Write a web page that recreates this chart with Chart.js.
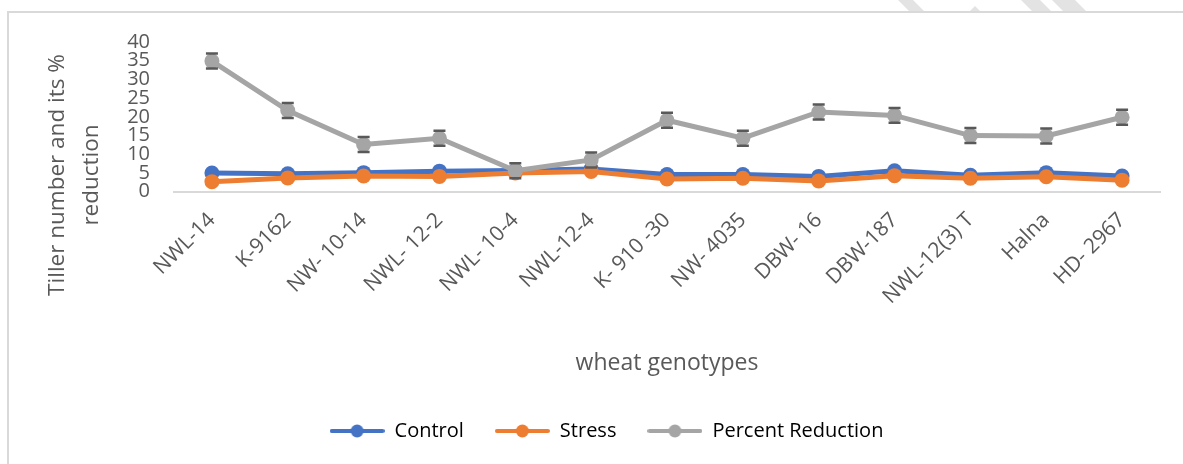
<!DOCTYPE html>
<html><head><meta charset="utf-8">
<script src="https://cdn.jsdelivr.net/npm/chart.js@4.4.1/dist/chart.umd.min.js"></script>
<style>html,body{margin:0;padding:0;background:#fff;overflow:hidden;} #c{display:block;}</style>
</head><body>
<canvas id="c" width="1183" height="464"></canvas>
<script>
const categories = ['NWL-14','K-9162','NW- 10-14','NWL- 12-2','NWL- 10-4','NWL-12-4','K- 910 -30','NW- 4035','DBW- 16','DBW-187','NWL-12(3) T','Halna','HD- 2967'];
const controlValues = [5.0, 4.8, 5.1, 5.5, 5.7, 6.1, 4.6, 4.6, 4.1, 5.6, 4.4, 5.1, 4.2];
const stressValues  = [2.7, 3.7, 4.2, 4.1, 5.0, 5.4, 3.4, 3.6, 2.9, 4.3, 3.6, 4.0, 3.1];
const percentValues = [34.9, 21.7, 12.6, 14.3, 5.6, 8.5, 19.1, 14.3, 21.3, 20.4, 15.0, 14.9, 19.9];
const percentErrors = [2.0, 2.0, 2.0, 2.0, 2.0, 2.0, 2.0, 2.0, 2.0, 2.0, 2.0, 2.0, 2.0];
const yTickValues = [0, 5, 10, 15, 20, 25, 30, 35, 40];
const seriesNames = ['Control', 'Stress', 'Percent Reduction'];
const seriesColors = ['#4472C4', '#ED7D31', '#A5A5A5'];
const yTitleLines = ['Tiller number and its %', 'reduction'];
const xTitleText = 'wheat genotypes';

const TEXT = '#595959';
const FONT = 'Open Sans';

function legendIcon(color) {
  const c = document.createElement('canvas');
  c.width = 55; c.height = 16;
  const g = c.getContext('2d');
  g.strokeStyle = color; g.lineWidth = 4; g.lineCap = 'round';
  g.beginPath(); g.moveTo(2, 8); g.lineTo(53, 8); g.stroke();
  g.fillStyle = color;
  g.beginPath(); g.arc(27.5, 8, 6.5, 0, Math.PI * 2); g.fill();
  return c;
}

const frame = {
  id: 'frame',
  beforeDraw(chart) {
    const ctx = chart.ctx;
    ctx.save();
    ctx.fillStyle = '#fff';
    ctx.fillRect(0, 0, chart.width, chart.height);
    // faint page watermark strokes above the frame
    ctx.fillStyle = '#e3e3e3';
    const bands = [[898, 913], [1021, 1040], [1052, 1075]];
    bands.forEach(([a, b]) => {
      ctx.beginPath();
      ctx.moveTo(a, 0); ctx.lineTo(b, 0); ctx.lineTo(b + 12, 12); ctx.lineTo(a + 12, 12);
      ctx.closePath(); ctx.fill();
    });
    ctx.beginPath(); ctx.moveTo(969, 12); ctx.lineTo(975, 6); ctx.lineTo(981, 12); ctx.closePath(); ctx.fill();
    ctx.strokeStyle = '#d9d9d9';
    ctx.lineWidth = 2;
    ctx.beginPath();
    ctx.moveTo(8, chart.height); ctx.lineTo(8, 12); ctx.lineTo(chart.width, 12);
    ctx.stroke();
    ctx.restore();
  }
};

const errorBars = {
  id: 'errorBars',
  afterDatasetsDraw(chart) {
    const meta = chart.getDatasetMeta(2);
    const ys = chart.scales.y;
    const ctx = chart.ctx;
    ctx.save();
    ctx.strokeStyle = '#595959';
    ctx.lineWidth = 2.5;
    meta.data.forEach((pt, i) => {
      const v = percentValues[i], e = percentErrors[i];
      const yt = ys.getPixelForValue(v + e), yb = ys.getPixelForValue(v - e);
      const x = pt.x, r = 7;
      ctx.beginPath();
      ctx.moveTo(x - 6, yt); ctx.lineTo(x + 6, yt);
      ctx.moveTo(x - 6, yb); ctx.lineTo(x + 6, yb);
      if (yt < pt.y - r) { ctx.moveTo(x, yt); ctx.lineTo(x, pt.y - r); }
      if (yb > pt.y + r) { ctx.moveTo(x, yb); ctx.lineTo(x, pt.y + r); }
      ctx.stroke();
    });
    ctx.restore();
  }
};

const yTitle = {
  id: 'yTitle',
  afterDraw(chart) {
    const ctx = chart.ctx;
    ctx.save();
    ctx.fillStyle = TEXT;
    ctx.font = '22.5px "' + FONT + '"';
    ctx.textAlign = 'center';
    ctx.textBaseline = 'middle';
    const xs = [58, 92];
    yTitleLines.forEach((t, i) => {
      ctx.save();
      ctx.translate(xs[i], 175);
      ctx.rotate(-Math.PI / 2);
      ctx.fillText(t, 0, 0);
      ctx.restore();
    });
    ctx.restore();
  }
};

const seriesData = [controlValues, stressValues, percentValues];
const datasets = seriesNames.map((name, i) => ({
  label: name,
  data: seriesData[i],
  borderColor: seriesColors[i],
  backgroundColor: seriesColors[i],
  pointBackgroundColor: seriesColors[i],
  pointBorderColor: seriesColors[i],
  borderWidth: 5,
  pointRadius: 7.5,
  pointBorderWidth: 0,
  tension: 0,
  fill: false,
  clip: false,
  order: 2 - i
}));

new Chart(document.getElementById('c'), {
  type: 'line',
  data: { labels: categories, datasets },
  plugins: [frame, errorBars, yTitle],
  options: {
    responsive: false,
    animation: false,
    devicePixelRatio: 1,
    events: [],
    layout: { padding: { left: 53, right: 23, top: 42, bottom: 13 } },
    plugins: {
      tooltip: { enabled: false },
      legend: {
        position: 'bottom',
        labels: {
          usePointStyle: true,
          pointStyleWidth: 55,
          padding: 31,
          color: TEXT,
          font: { family: FONT, size: 20 },
          generateLabels: (chart) => chart.data.datasets.map((ds, i) => ({
            text: ds.label,
            pointStyle: legendIcon(ds.borderColor),
            fillStyle: ds.borderColor,
            strokeStyle: ds.borderColor,
            lineWidth: 0,
            hidden: false,
            datasetIndex: i
          }))
        }
      }
    },
    scales: {
      x: {
        offset: true,
        grid: { display: false, drawTicks: false },
        border: { display: true, color: '#d9d9d9', width: 2 },
        ticks: { autoSkip: false, maxRotation: 45, minRotation: 45, padding: 16, color: TEXT, font: { family: FONT, size: 21 } },
        title: { display: true, text: xTitleText, color: TEXT, font: { family: FONT, size: 23 }, padding: { top: 0, bottom: 13 } },
        afterFit: (s) => { s.height = 198.25; }
      },
      y: {
        min: 0, max: 40,
        grid: { display: false, drawTicks: false },
        border: { display: false },
        ticks: { autoSkip: false, padding: 24, color: TEXT, font: { family: FONT, size: 20 } },
        afterBuildTicks: (s) => { s.ticks = yTickValues.map(v => ({ value: v })); },
        afterFit: (s) => { s.width = 121; }
      }
    }
  }
});
</script>
</body></html>
